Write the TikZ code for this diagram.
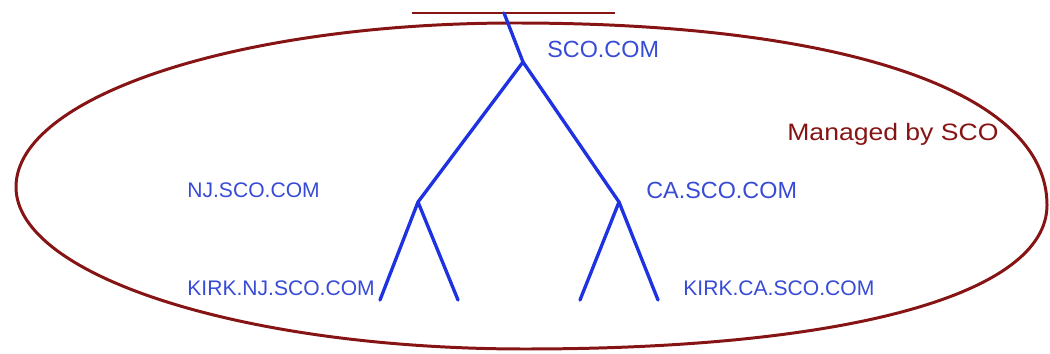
\documentclass[tikz,border=0pt]{standalone}
\usepackage{fontspec}
\setmainfont{Liberation Sans}
\usetikzlibrary{positioning}
\definecolor{ramo}{RGB}{30,50,225}
\definecolor{rotulo}{RGB}{55,75,215}
\definecolor{borda}{RGB}{135,20,20}

\begin{document}
\begin{tikzpicture}[
x=0.02cm, y=-0.02cm,
ramo/.style={draw=ramo, line width=1.9pt, line cap=round},
dominio/.style={
text=rotulo,
inner sep=0pt,
anchor=west,
font=\fontsize{#1}{14}\selectfont
},
dominio/.default=12,
contorno/.style={draw=borda, line width=1.7pt}
]
\useasboundingbox (0,0) rectangle (1050,354);

% zona gerida
\draw[contorno] (16,187) .. controls (16,96) and (240,23) .. (515,23)
  .. controls (845,23) and (1047,92) .. (1047,205)
  .. controls (1047,294) and (849,349) .. (525,349)
  .. controls (244,349) and (16,276) .. (16,187) -- cycle;
\draw[draw=borda, line width=1.3pt] (412,13) -- (615,13);

% pontos da arvore
\coordinate (topo) at (504,13);
\coordinate (raiz) at (523,62);
\coordinate (nj) at (418,202);
\coordinate (ca) at (619,202);
\coordinate (nja) at (380,300);
\coordinate (njb) at (458,300);
\coordinate (caa) at (580,300);
\coordinate (cab) at (658,300);

\draw[ramo] (topo) -- (raiz);
\draw[ramo] (raiz) -- (nj);
\draw[ramo] (raiz) -- (ca);
\draw[ramo] (nj) -- (nja);
\draw[ramo] (nj) -- (njb);
\draw[ramo] (ca) -- (caa);
\draw[ramo] (ca) -- (cab);

\node[dominio=13.3] (sco) at (547,49) {SCO.COM};
\node[dominio] (njsco) at (187,190) {NJ.SCO.COM};
\node[dominio=13.3] (casco) at (646,190) {CA.SCO.COM};
\node[dominio] (kirknj) at (187,288) {KIRK.NJ.SCO.COM};
\node[dominio] (kirkca) at (683,288) {KIRK.CA.SCO.COM};
\node[dominio, text=borda,
  font=\fontsize{13.5}{14}\selectfont\addfontfeature{FakeStretch=1.12}] (gestor) at (787,134) {Managed by SCO};

\end{tikzpicture}
\end{document}
